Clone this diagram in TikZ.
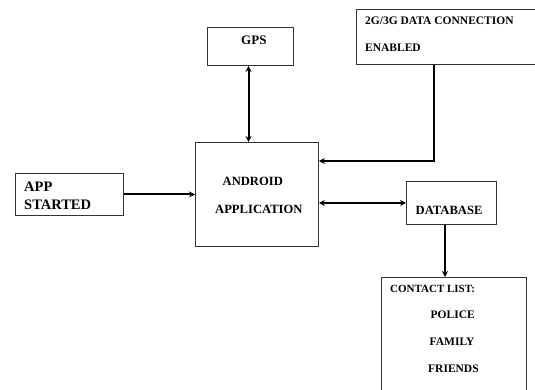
\documentclass[tikz,border=0pt]{standalone}
\usepackage{fontspec}
\setmainfont{Liberation Serif}
\usetikzlibrary{arrows.meta}
\begin{document}
\begin{tikzpicture}[x=1pt,y=-1pt,
  box/.style={draw=black!80,line width=0.9pt,anchor=north west,inner sep=0pt},
  lbl/.style={anchor=west,inner sep=0pt,font=\bfseries},
  conn/.style={line width=2pt,black,-{Stealth[length=6pt,width=6pt]}},
  bconn/.style={line width=2pt,black,{Stealth[length=6pt,width=6pt]}-{Stealth[length=6pt,width=6pt]}}]
\useasboundingbox (0,0) rectangle (535,390);
% boxes
\node[box,minimum width=86pt,minimum height=38pt] (gps) at (207,27) {};
\node[box,minimum width=180pt,minimum height=55pt] (net) at (356,9.5) {};
\node[box,minimum width=123pt,minimum height=104pt] (android) at (195,142) {};
\node[box,minimum width=108pt,minimum height=42pt] (app) at (15,173) {};
\node[box,minimum width=90pt,minimum height=43pt] (db) at (406,181) {};
\node[box,minimum width=145pt,minimum height=125pt] (contact) at (381,277) {};
% labels
\node[lbl,font=\fontsize{13}{13}\selectfont\bfseries] (tgps) at (241,40) {GPS};
\node[lbl,font=\fontsize{11.5}{12}\selectfont\bfseries] (tnet1) at (365,21) {2G/3G DATA CONNECTION};
\node[lbl,font=\fontsize{11.5}{12}\selectfont\bfseries] (tnet2) at (365,48) {ENABLED};
\node[lbl,font=\fontsize{12.6}{13}\selectfont\bfseries] (tand1) at (222.5,181) {ANDROID};
\node[lbl,font=\fontsize{12.6}{13}\selectfont\bfseries] (tand2) at (215,209) {APPLICATION};
\node[lbl,font=\fontsize{14.5}{15}\selectfont\bfseries] (tapp1) at (24,187) {APP};
\node[lbl,font=\fontsize{14.5}{15}\selectfont\bfseries] (tapp2) at (24,204.5) {STARTED};
\node[lbl,font=\fontsize{12.6}{13}\selectfont\bfseries] (tdb) at (415.5,210.5) {DATABASE};
\node[lbl,font=\fontsize{11}{12}\selectfont\bfseries] (tc0) at (390,289) {CONTACT LIST:};
\node[lbl,font=\fontsize{11.5}{12}\selectfont\bfseries] (tc1) at (430.5,315) {POLICE};
\node[lbl,font=\fontsize{11.5}{12}\selectfont\bfseries] (tc2) at (429.5,341.5) {FAMILY};
\node[lbl,font=\fontsize{11.5}{12}\selectfont\bfseries] (tc3) at (428,369) {FRIENDS};
% connectors
\coordinate (gx) at (248.5,0);
\coordinate (bend) at (434,161);
\coordinate (dx) at (445,0);
\draw[conn] (app.east) -- (app.east -| android.west);
\draw[bconn] (gps.south -| gx) -- (android.north -| gx);
\draw[conn] (net.south -| bend) -- (bend) -- (bend -| android.east);
\draw[bconn] (db.west -| android.east) -- (db.west);
\draw[conn] (db.south -| dx) -- (contact.north -| dx);
\end{tikzpicture}
\end{document}
